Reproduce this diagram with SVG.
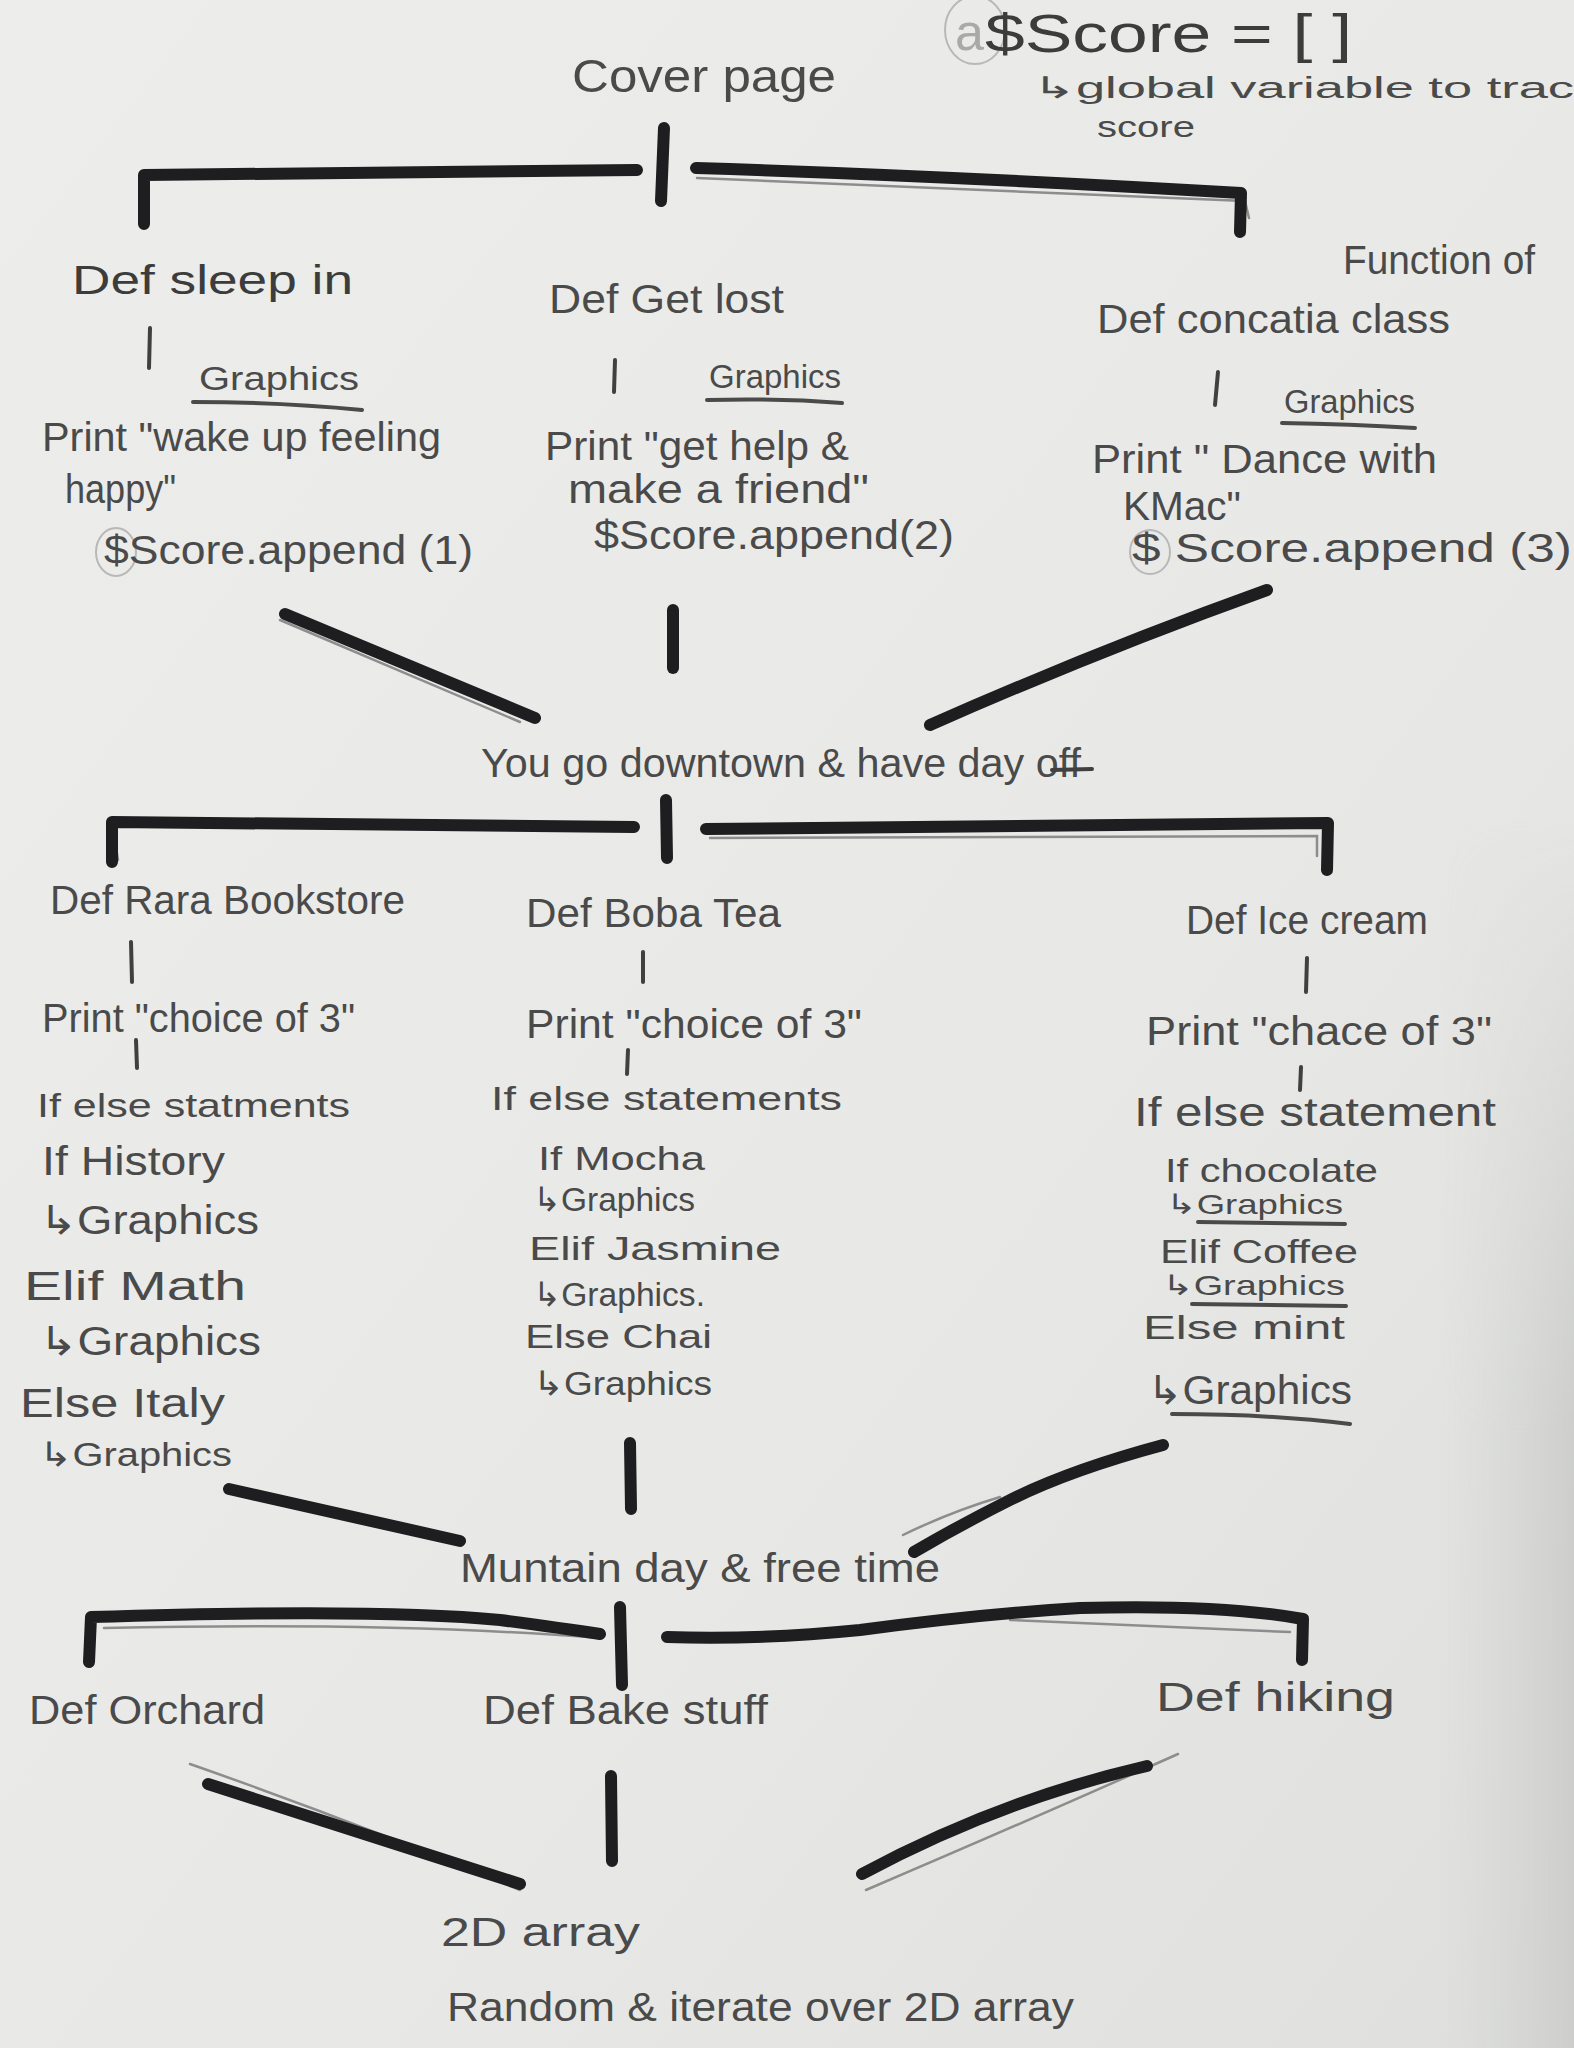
<svg xmlns="http://www.w3.org/2000/svg" width="1574" height="2048" viewBox="0 0 1574 2048">
  <defs>
    <linearGradient id="paper" x1="0" y1="0" x2="1" y2="1">
      <stop offset="0" stop-color="#ededeb"/>
      <stop offset="0.6" stop-color="#e8e9e6"/>
      <stop offset="1" stop-color="#dfe0dd"/>
    </linearGradient>
    <linearGradient id="edge" x1="0" y1="0" x2="1" y2="0">
      <stop offset="0" stop-color="#d2d3d0" stop-opacity="0"/>
      <stop offset="1" stop-color="#cbccc9" stop-opacity="0.9"/>
    </linearGradient>
    <linearGradient id="edgeFade" x1="0" y1="0" x2="0" y2="1">
      <stop offset="0.4" stop-color="#fff" stop-opacity="0"/>
      <stop offset="0.7" stop-color="#fff" stop-opacity="1"/>
    </linearGradient>
    <mask id="edgeMask">
      <rect x="0" y="0" width="1574" height="2048" fill="url(#edgeFade)"/>
    </mask>
    <style>
      text { font-family: "Liberation Sans", "DejaVu Sans", sans-serif; fill: #4a4a4a; }
      .lbl { font-size: 40px; }
      .sm { font-size: 34px; }
      .dark { fill: #3c3c3c; }
      .faint { fill: #a9a9a9; }
      .marker { fill: none; stroke: #1e1e21; stroke-width: 12; stroke-linecap: round; stroke-linejoin: round; }
      .pencil { fill: none; stroke: #8d8d8d; stroke-width: 2.5; stroke-linecap: round; }
      .tick { fill: none; stroke: #404040; stroke-width: 4; stroke-linecap: round; }
      .uline { fill: none; stroke: #4a4a4a; stroke-width: 4; stroke-linecap: round; }
      .ring { fill: none; stroke: #b8b8b8; stroke-width: 2; }
    </style>
  </defs>

  <!-- sheet of paper with a soft shadow along the right edge -->
  <rect x="0" y="0" width="1574" height="2048" fill="url(#paper)"/>
  <rect x="1440" y="0" width="134" height="2048" fill="url(#edge)" mask="url(#edgeMask)"/>

  <!-- header: title and global score note -->
  <g id="cover-page">
    <text x="572" y="92" font-size="46" textLength="264" lengthAdjust="spacingAndGlyphs">Cover page</text>
  </g>
  <g id="score-note">
    <ellipse cx="975" cy="30" rx="30" ry="34" class="ring"/>
    <text x="955" y="50" font-size="52" class="faint">a</text>
    <text x="985" y="52" font-size="54" textLength="367" lengthAdjust="spacingAndGlyphs" class="dark">$Score = [ ]</text>
    <text x="1032" y="98" font-size="30" textLength="542" lengthAdjust="spacingAndGlyphs">↳global variable to trac</text>
    <text x="1097" y="137" font-size="30" textLength="98" lengthAdjust="spacingAndGlyphs">score</text>
  </g>

  <!-- connectors -->
  <g id="connectors">
    <!-- first split -->
    <path class="pencil" d="M697,178 Q1000,190 1245,201 L1249,218"/>
    <path class="marker" d="M144,224 L144,175 L637,170"/>
    <path class="marker" d="M664,128 L661,201"/>
    <path class="marker" d="M696,168 Q950,176 1241,193 L1240,232"/>

    <!-- first merge -->
    <path class="pencil" d="M280,620 L520,722"/>
    <path class="marker" d="M285,614 L535,718"/>
    <path class="marker" d="M673,610 L673,668"/>
    <path class="marker" d="M1267,590 Q1100,650 930,725"/>

    <!-- second split -->
    <path class="pencil" d="M710,838 L1317,836 L1317,856"/>
    <path class="pencil" d="M114,835 L118,860"/>
    <path class="marker" d="M112,862 L112,822 L634,827"/>
    <path class="marker" d="M666,800 L667,858"/>
    <path class="marker" d="M706,829 L1328,823 L1327,870"/>

    <!-- second merge -->
    <path class="marker" d="M229,1489 L460,1541"/>
    <path class="marker" d="M630,1443 L631,1509"/>
    <path class="pencil" d="M903,1535 Q950,1512 1000,1497"/>
    <path class="marker" d="M1163,1445 Q1070,1470 1010,1500 Q960,1525 914,1552"/>

    <!-- third split -->
    <path class="pencil" d="M104,1628 Q400,1622 600,1638"/>
    <path class="pencil" d="M1010,1620 Q1200,1628 1290,1632"/>
    <path class="marker" d="M89,1662 L91,1617 Q380,1608 500,1620 Q560,1628 600,1634"/>
    <path class="marker" d="M620,1607 L622,1685"/>
    <path class="marker" d="M667,1637 Q760,1640 860,1630 Q980,1614 1080,1608 Q1220,1604 1303,1619 L1302,1660"/>

    <!-- third merge -->
    <path class="pencil" d="M190,1764 Q350,1820 520,1890"/>
    <path class="marker" d="M208,1784 L520,1884"/>
    <path class="marker" d="M611,1776 L612,1861"/>
    <path class="pencil" d="M1178,1754 Q1030,1820 866,1890"/>
    <path class="marker" d="M1147,1766 Q1000,1800 862,1874"/>
  </g>

  <!-- first choice: three options -->
  <g id="sleep-in">
    <text x="72" y="294" class="lbl dark" textLength="281" lengthAdjust="spacingAndGlyphs">Def sleep in</text>
    <path class="tick" d="M150,328 L149,368"/>
    <text x="199" y="390" class="sm" textLength="160" lengthAdjust="spacingAndGlyphs">Graphics</text>
    <path class="uline" d="M193,402 Q280,402 362,410"/>
    <text x="42" y="451" class="lbl" textLength="399" lengthAdjust="spacingAndGlyphs">Print "wake up feeling</text>
    <text x="65" y="503" class="lbl" textLength="111" lengthAdjust="spacingAndGlyphs">happy"</text>
    <ellipse cx="116" cy="552" rx="20" ry="24" class="ring"/>
    <text x="104" y="564" class="lbl" textLength="369" lengthAdjust="spacingAndGlyphs">$Score.append (1)</text>
  </g>

  <g id="get-lost">
    <text x="549" y="313" class="lbl" textLength="235" lengthAdjust="spacingAndGlyphs">Def Get lost</text>
    <path class="tick" d="M615,360 L614,392"/>
    <text x="709" y="388" class="sm" textLength="132" lengthAdjust="spacingAndGlyphs">Graphics</text>
    <path class="uline" d="M707,400 Q780,398 842,403"/>
    <text x="545" y="460" class="lbl" textLength="304" lengthAdjust="spacingAndGlyphs">Print "get help &amp;</text>
    <text x="568" y="503" class="lbl" textLength="301" lengthAdjust="spacingAndGlyphs">make a friend"</text>
    <text x="594" y="549" class="lbl" textLength="360" lengthAdjust="spacingAndGlyphs">$Score.append(2)</text>
  </g>

  <g id="convocation-class">
    <text x="1343" y="274" class="lbl" textLength="192" lengthAdjust="spacingAndGlyphs">Function of</text>
    <text x="1097" y="333" class="lbl" textLength="353" lengthAdjust="spacingAndGlyphs">Def concatia class</text>
    <path class="tick" d="M1218,372 L1215,405"/>
    <text x="1284" y="413" class="sm" textLength="131" lengthAdjust="spacingAndGlyphs">Graphics</text>
    <path class="uline" d="M1282,423 Q1350,424 1415,428"/>
    <text x="1092" y="473" class="lbl" textLength="345" lengthAdjust="spacingAndGlyphs">Print " Dance with</text>
    <text x="1123" y="520" class="lbl" textLength="118" lengthAdjust="spacingAndGlyphs">KMac"</text>
    <ellipse cx="1150" cy="552" rx="20" ry="22" class="ring"/>
    <text x="1132" y="562" class="lbl" textLength="440" lengthAdjust="spacingAndGlyphs">$ Score.append (3)</text>
  </g>

  <!-- merge point 1 -->
  <g id="downtown">
    <text x="481" y="777" class="lbl" textLength="600" lengthAdjust="spacingAndGlyphs">You go downtown &amp; have day off</text>
    <path class="tick" d="M1052,770 L1092,769"/>
  </g>

  <!-- second choice: three options -->
  <g id="bookstore">
    <text x="50" y="914" class="lbl" textLength="355" lengthAdjust="spacingAndGlyphs">Def Rara Bookstore</text>
    <path class="tick" d="M131,942 L132,982"/>
    <text x="42" y="1032" class="lbl" textLength="313" lengthAdjust="spacingAndGlyphs">Print "choice of 3"</text>
    <path class="tick" d="M136,1040 L137,1068"/>
    <text x="37" y="1117" class="sm" textLength="313" lengthAdjust="spacingAndGlyphs">If else statments</text>
    <text x="42" y="1175" class="lbl" textLength="183" lengthAdjust="spacingAndGlyphs">If History</text>
    <text x="39" y="1234" class="lbl" textLength="220" lengthAdjust="spacingAndGlyphs">↳Graphics</text>
    <text x="24" y="1300" class="lbl" textLength="222" lengthAdjust="spacingAndGlyphs">Elif Math</text>
    <text x="39" y="1355" class="lbl" textLength="222" lengthAdjust="spacingAndGlyphs">↳Graphics</text>
    <text x="20" y="1417" class="lbl" textLength="205" lengthAdjust="spacingAndGlyphs">Else Italy</text>
    <text x="39" y="1466" class="sm" textLength="193" lengthAdjust="spacingAndGlyphs">↳Graphics</text>
  </g>

  <g id="boba-tea">
    <text x="526" y="927" class="lbl" textLength="255" lengthAdjust="spacingAndGlyphs">Def Boba Tea</text>
    <path class="tick" d="M643,952 L643,982"/>
    <text x="526" y="1038" class="lbl" textLength="336" lengthAdjust="spacingAndGlyphs">Print "choice of 3"</text>
    <path class="tick" d="M628,1050 L627,1074"/>
    <text x="491" y="1110" class="sm" textLength="351" lengthAdjust="spacingAndGlyphs">If else statements</text>
    <text x="538" y="1170" class="sm" textLength="167" lengthAdjust="spacingAndGlyphs">If Mocha</text>
    <text x="533" y="1211" class="sm" textLength="162" lengthAdjust="spacingAndGlyphs">↳Graphics</text>
    <text x="529" y="1260" class="sm" textLength="252" lengthAdjust="spacingAndGlyphs">Elif Jasmine</text>
    <text x="533" y="1306" class="sm" textLength="172" lengthAdjust="spacingAndGlyphs">↳Graphics.</text>
    <text x="525" y="1348" class="sm" textLength="187" lengthAdjust="spacingAndGlyphs">Else Chai</text>
    <text x="533" y="1395" class="sm" textLength="179" lengthAdjust="spacingAndGlyphs">↳Graphics</text>
  </g>

  <g id="ice-cream">
    <text x="1186" y="934" class="lbl" textLength="242" lengthAdjust="spacingAndGlyphs">Def Ice cream</text>
    <path class="tick" d="M1307,958 L1306,992"/>
    <text x="1146" y="1045" class="lbl" textLength="346" lengthAdjust="spacingAndGlyphs">Print "chace of 3"</text>
    <path class="tick" d="M1301,1067 L1300,1090"/>
    <text x="1134" y="1126" class="lbl" textLength="362" lengthAdjust="spacingAndGlyphs">If else statement</text>
    <text x="1165" y="1182" class="sm" textLength="213" lengthAdjust="spacingAndGlyphs">If chocolate</text>
    <text x="1166" y="1214" font-size="28" textLength="177" lengthAdjust="spacingAndGlyphs">↳Graphics</text>
    <path class="uline" d="M1198,1222 L1345,1224"/>
    <text x="1160" y="1263" class="sm" textLength="198" lengthAdjust="spacingAndGlyphs">Elif Coffee</text>
    <text x="1162" y="1295" font-size="28" textLength="183" lengthAdjust="spacingAndGlyphs">↳Graphics</text>
    <path class="uline" d="M1192,1304 L1346,1306"/>
    <text x="1143" y="1339" class="sm" textLength="202" lengthAdjust="spacingAndGlyphs">Else mint</text>
    <text x="1147" y="1404" class="lbl" textLength="205" lengthAdjust="spacingAndGlyphs">↳Graphics</text>
    <path class="uline" d="M1172,1414 Q1270,1414 1350,1424"/>
  </g>

  <!-- merge point 2 -->
  <g id="mountain-day">
    <text x="460" y="1582" class="lbl" textLength="480" lengthAdjust="spacingAndGlyphs">Muntain day &amp; free time</text>
  </g>

  <!-- third choice: three options -->
  <g id="orchard">
    <text x="29" y="1724" class="lbl" textLength="236" lengthAdjust="spacingAndGlyphs">Def Orchard</text>
  </g>
  <g id="bake-stuff">
    <text x="483" y="1724" class="lbl" textLength="285" lengthAdjust="spacingAndGlyphs">Def Bake stuff</text>
  </g>
  <g id="hiking">
    <text x="1156" y="1711" class="lbl" textLength="239" lengthAdjust="spacingAndGlyphs">Def hiking</text>
  </g>

  <!-- final step -->
  <g id="array-2d">
    <text x="441" y="1946" class="lbl" textLength="199" lengthAdjust="spacingAndGlyphs">2D array</text>
    <text x="447" y="2021" class="lbl" textLength="627" lengthAdjust="spacingAndGlyphs">Random &amp; iterate over 2D array</text>
  </g>
</svg>
